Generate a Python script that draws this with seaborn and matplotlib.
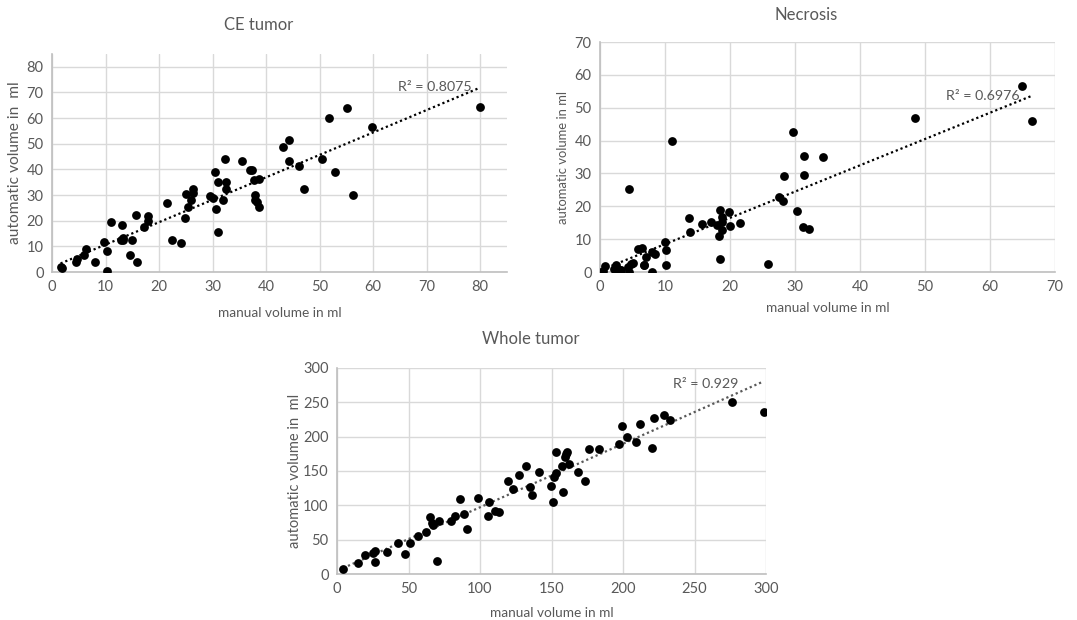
import numpy as np
import pandas as pd
import seaborn as sns
import matplotlib
matplotlib.use("Agg")
import matplotlib.pyplot as plt

# ---------------- data ----------------
ce_manual = [1.6, 1.9, 4.4, 4.7, 6.0, 6.3, 8.1, 9.7, 10.3, 10.3, 11.1, 13.1, 12.9, 13.3, 13.3,
             14.6, 15.0, 15.7, 15.9, 17.2, 17.9, 18.0, 21.5, 22.4, 24.1, 24.8, 25.0, 25.4, 25.9,
             26.3, 26.4, 29.5, 30.1, 30.4, 30.6, 31.0, 31.0, 32.0, 32.3, 32.5, 32.5, 35.5, 36.9,
             37.4, 37.7, 37.9, 38.0, 38.3, 38.6, 38.7, 43.1, 44.2, 44.3, 46.1, 47.0, 50.5, 51.8,
             52.9, 55.2, 56.3, 59.8, 79.9]
ce_auto = [2.0, 1.7, 3.9, 5.2, 6.8, 8.8, 3.9, 11.8, 8.2, 0.3, 19.4, 18.5, 12.6, 13.4, 12.4,
           6.5, 12.6, 22.2, 3.9, 17.7, 21.7, 20.0, 26.8, 12.6, 11.4, 20.9, 30.6, 25.4, 28.1,
           32.5, 30.8, 29.8, 29.0, 38.9, 24.7, 35.1, 15.6, 28.1, 44.2, 35.1, 32.3, 43.4, 39.7,
           39.7, 35.9, 29.9, 28.0, 27.4, 25.4, 36.3, 48.8, 51.3, 43.1, 41.4, 32.3, 44.2, 60.0,
           38.9, 64.1, 30.0, 56.7, 64.5]

nec_manual = [0.3, 0.5, 0.7, 2.1, 2.5, 2.6, 3.0, 3.2, 4.3, 4.5, 4.5, 4.7, 5.1, 5.8, 6.5, 6.7,
              6.8, 7.0, 8.0, 8.0, 8.5, 10.0, 10.1, 10.1, 11.0, 13.7, 13.9, 15.7, 17.1, 18.0,
              18.3, 18.5, 18.4, 18.8, 18.8, 18.8, 19.9, 20.0, 21.6, 25.8, 27.5, 28.1, 28.3,
              29.7, 30.3, 31.2, 31.4, 31.4, 32.1, 34.3, 48.4, 64.9, 66.5]
nec_auto = [0.0, 0.2, 1.8, 1.0, 2.2, 0.2, 0.5, 0.6, 1.5, 0.1, 25.4, 2.4, 2.7, 7.1, 7.3, 2.0,
            2.2, 4.6, 0.1, 6.0, 5.6, 9.2, 6.8, 2.2, 40.0, 16.4, 12.1, 14.7, 15.3, 14.4,
            10.9, 18.8, 4.0, 16.7, 15.3, 12.9, 18.2, 14.0, 14.9, 2.4, 22.8, 21.6, 29.1,
            42.5, 18.5, 13.8, 35.3, 29.5, 13.1, 35.0, 46.9, 56.5, 46.1]

wt_manual = [4.4, 14.9, 19.6, 25.2, 26.6, 26.4, 34.8, 42.7, 47.6, 50.9, 56.9, 62.3, 65.3, 66.5,
             67.4, 69.8, 71.4, 80.0, 82.6, 86.3, 88.6, 91.0, 98.4, 105.7, 106.4, 110.6, 113.6,
             119.7, 123.4, 127.6, 132.0, 135.1, 136.2, 141.1, 149.5, 150.9, 151.6, 152.8, 153.0,
             157.0, 158.2, 159.6, 160.3, 160.7, 161.9, 168.7, 173.3, 176.4, 183.4, 197.4, 199.0,
             202.7, 209.3, 211.8, 220.4, 221.6, 228.8, 233.0, 276.4, 298.4]
wt_auto = [6.8, 16.0, 27.2, 30.1, 34.0, 17.5, 31.6, 45.2, 29.7, 45.2, 55.9, 60.8, 82.7, 74.9,
           72.0, 19.4, 76.8, 77.8, 84.1, 109.9, 87.0, 65.2, 111.3, 84.1, 105.5, 91.9, 90.0,
           136.1, 124.0, 143.9, 157.5, 127.4, 114.7, 148.3, 128.8, 105.5, 141.0, 177.5, 146.8,
           156.6, 119.1, 171.1, 175.0, 178.0, 159.5, 148.8, 136.1, 182.3, 182.3, 188.7, 215.9,
           199.3, 191.6, 218.8, 183.8, 226.6, 231.4, 224.1, 249.9, 236.3]

titles = ["CE tumor", "Necrosis", "Whole tumor"]
r2_labels = ["R\u00b2 = 0.8075", "R\u00b2 = 0.6976", "R\u00b2 = 0.929"]
ylabels = ["automatic volume in  ml", "automatic volume in ml", "automatic volume in  ml"]
xlabel = "manual volume in ml"

# ---------------- style ----------------
sns.set_theme(style="white")
plt.rcParams['font.family'] = ['Lato', 'DejaVu Sans']
TXT = "#595959"
GRID = "#d9d9d9"
SPINE = "#bfbfbf"

W, H = 1077, 620
fig = plt.figure(figsize=(W / 100, H / 100), dpi=100)


def px_axes(left, top, right, bottom):
    return fig.add_axes([left / W, 1 - bottom / H, (right - left) / W, (bottom - top) / H])


panels = [
    dict(box=(52, 54, 507, 272), x=ce_manual, y=ce_auto, xlim=85, ylim=85, step=10,
         lc="black", r2pos=(78.3, 72.3), title=(259, 25), ylab_x=15, xlab_y=313, ylab_fs=11.2),
    dict(box=(600, 42, 1055, 272), x=nec_manual, y=nec_auto, xlim=70, ylim=70, step=10,
         lc="black", r2pos=(64.6, 53.6), title=(806, 15), ylab_x=563, xlab_y=308, ylab_fs=9.4),
    dict(box=(337, 368, 766, 574), x=wt_manual, y=wt_auto, xlim=300, ylim=300, step=50,
         lc="#595959", r2pos=(280.5, 276), title=(531, 339), ylab_x=295, xlab_y=613, ylab_fs=10.5),
]

for i, p in enumerate(panels):
    l, t, r, b = p["box"]
    ax = px_axes(l, t, r, b)
    df = pd.DataFrame({"manual": p["x"], "auto": p["y"]})
    sns.regplot(data=df, x="manual", y="auto", ax=ax, scatter=False, ci=None,
                truncate=True, line_kws=dict(color=p["lc"], lw=1.6, ls=(0, (1, 1.3))))
    sns.scatterplot(data=df, x="manual", y="auto", ax=ax, color="black", s=40,
                    edgecolor="black", linewidth=0, zorder=3)
    ax.set_xlim(0, p["xlim"])
    ax.set_ylim(0, p["ylim"])
    ax.set_xticks(np.arange(0, p["xlim"] + 0.1, p["step"]))
    ax.set_yticks(np.arange(0, p["ylim"] + 0.1, p["step"]))
    ax.grid(True, color=GRID, lw=1.0)
    ax.set_axisbelow(True)
    for s in ["top", "right"]:
        ax.spines[s].set_visible(False)
    for s in ["left", "bottom"]:
        ax.spines[s].set_color(SPINE)
        ax.spines[s].set_linewidth(1.2)
    ax.tick_params(length=0, labelsize=10.5, labelcolor=TXT, pad=6)
    ax.set_xlabel(xlabel, fontsize=9.8, color=TXT)
    ax.set_ylabel(ylabels[i], fontsize=p["ylab_fs"], color=TXT)
    ax.xaxis.set_label_coords(0.5, (b - p["xlab_y"]) / (b - t), transform=ax.transAxes)
    ax.xaxis.label.set_va("center")
    ax.yaxis.set_label_coords((p["ylab_x"] - l) / (r - l), 0.5, transform=ax.transAxes)
    ax.yaxis.label.set_va("center")
    ax.text(p["r2pos"][0], p["r2pos"][1], r2_labels[i], ha="right", va="center",
            fontsize=10.3, color=TXT)
    fig.text(p["title"][0] / W, 1 - p["title"][1] / H, titles[i], ha="center", va="center",
             fontsize=12, color=TXT)

fig.savefig("out.png", dpi=100)
